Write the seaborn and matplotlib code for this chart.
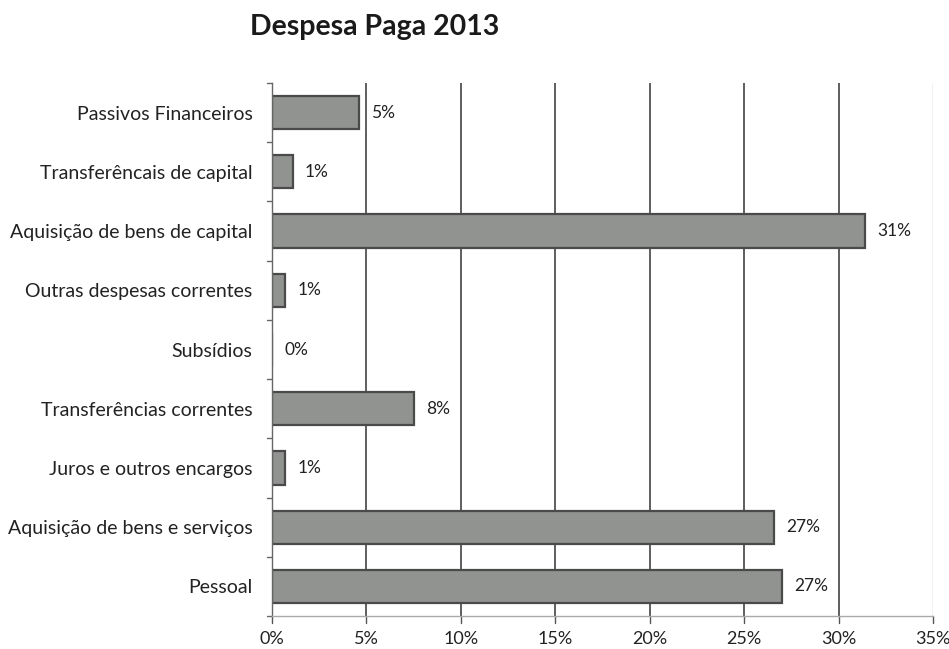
import matplotlib
matplotlib.use("Agg")
import matplotlib.pyplot as plt
import seaborn as sns
import pandas as pd

categories = [
    "Passivos Financeiros",
    "Transferêncais de capital",
    "Aquisição de bens de capital",
    "Outras despesas correntes",
    "Subsídios",
    "Transferências correntes",
    "Juros e outros encargos",
    "Aquisição de bens e serviços",
    "Pessoal",
]
shares = [4.6, 1.1, 31.4, 0.7, 0.0, 7.5, 0.7, 26.6, 27.0]
tick_values = [0, 5, 10, 15, 20, 25, 30, 35]
tick_labels = [f"{v}%" for v in tick_values]

df = pd.DataFrame({"categoria": categories, "valor": shares})

sns.set_theme(style="white")
plt.rcParams["font.family"] = ["Lato", "DejaVu Sans"]

fig = plt.figure(figsize=(9.49, 6.49), dpi=100)
ax = fig.add_axes([0.2866, 0.0508, 0.6965, 0.8213])

sns.barplot(data=df, y="categoria", x="valor", orient="h", ax=ax,
            color="#909390", edgecolor="#4a4a4a", linewidth=1.6,
            width=0.56, saturation=1)

ax.set_xlim(0, 35)
ax.set_ylim(len(categories) - 0.5, -0.5)
ax.set_xticks(tick_values)
ax.set_xticklabels(tick_labels, fontsize=13, color="#222222")
ax.tick_params(axis="y", labelsize=14, length=0, pad=14, labelcolor="#222222")
ax.tick_params(axis="x", pad=11, length=0)
ax.set_xlabel("")
ax.set_ylabel("")

# vertical gridlines
for v in tick_values[1:-1]:
    ax.axvline(v, color="#333333", lw=1.1, zorder=0)
ax.axvline(35, color="#bbbbbb", lw=1.0, zorder=0)

for s in ["top", "right"]:
    ax.spines[s].set_visible(False)
ax.spines["left"].set_color("#666666")
ax.spines["left"].set_linewidth(1.0)
ax.spines["bottom"].set_color("#aaaaaa")
ax.spines["bottom"].set_linewidth(1.0)

# small category separator ticks on the left axis
for i in range(len(categories) + 1):
    ax.plot([-0.25, 0], [i - 0.5, i - 0.5], color="#666666", lw=1.0,
            clip_on=False)
# small ticks below the x axis
for v in tick_values:
    ax.plot([v, v], [len(categories) - 0.5, len(categories) - 0.38],
            color="#555555", lw=1.0, clip_on=False)

for i, v in enumerate(shares):
    ax.text(v + 0.65, i, f"{v:.0f}%", va="center", ha="left",
            fontsize=12.5, color="#222222")

fig.text(0.395, 0.946, "Despesa Paga 2013", ha="center", va="baseline",
         fontsize=20.5, fontweight="bold", color="#1a1a1a")

fig.savefig("out.png", dpi=100)
